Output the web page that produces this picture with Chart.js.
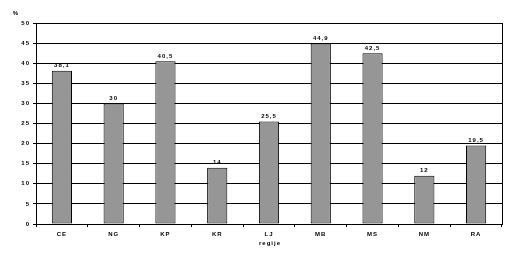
<!doctype html>
<html lang="sl">
<head>
<meta charset="utf-8" />
<title>regije</title>
<script src="https://cdn.jsdelivr.net/npm/chart.js@4.4.1/dist/chart.umd.min.js"></script>
<style>
  html, body { margin: 0; padding: 0; background: #fff; }
  #wrap { width: 518px; height: 254px; }
</style>
</head>
<body>
<div id="wrap"><canvas id="myChart" width="518" height="254"></canvas></div>
<script>
// dati
const regije = ['CE', 'NG', 'KP', 'KR', 'LJ', 'MB', 'MS', 'NM', 'RA'];
const deleži = [38.1, 30, 40.5, 14, 25.5, 44.9, 42.5, 12, 19.5];
const yMax = 50;
const yStep = 5;

const FONT = 'Liberation Sans, Arial, sans-serif';

// okvir grafa, naslovi osi in vrednosti nad stolpci
const extras = {
    id: 'extras',
    beforeDraw(chart) {
        chart.ctx.letterSpacing = '1px';
    },
    afterDraw(chart) {
        const ctx = chart.ctx;
        const a = chart.chartArea;
        ctx.save();
        ctx.strokeStyle = '#000';
        ctx.lineWidth = 1;
        ctx.strokeRect(Math.round(a.left) + 0.5, Math.round(a.top) + 0.5,
            Math.round(a.right - a.left), Math.round(a.bottom - a.top));

        ctx.letterSpacing = '1px';
        ctx.fillStyle = '#000';
        ctx.font = 'bold 6px ' + FONT;
        ctx.textAlign = 'center';
        ctx.textBaseline = 'bottom';
        const meta = chart.getDatasetMeta(0);
        meta.data.forEach((bar, i) => {
            const txt = String(deleži[i]).replace('.', ',');
            ctx.fillText(txt, bar.x, bar.y - 2);
        });

        ctx.textBaseline = 'middle';
        ctx.fillText('%', 16, 13);
        ctx.fillText('regije', 270, 243);
        ctx.restore();
    }
};

new Chart(document.getElementById('myChart'), {
    type: 'bar',
    data: {
        labels: regije,
        datasets: [{
            data: deleži,
            backgroundColor: '#969696',
            borderColor: '#000',
            borderWidth: 1,
            borderSkipped: false,
            categoryPercentage: 1,
            barPercentage: 0.39
        }]
    },
    options: {
        responsive: false,
        animation: false,
        devicePixelRatio: 1,
        layout: { padding: { left: 0, right: 16, top: 23, bottom: 0 } },
        plugins: {
            legend: { display: false },
            tooltip: { enabled: false }
        },
        scales: {
            y: {
                min: 0,
                max: yMax,
                border: { display: true, color: '#000', width: 1 },
                grid: { color: '#000', lineWidth: 1, tickLength: 3, drawTicks: true },
                ticks: {
                    stepSize: yStep,
                    color: '#000',
                    padding: 3,
                    font: { family: FONT, size: 6, weight: 'bold' }
                },
                afterFit(scale) { scale.width = 36; }
            },
            x: {
                offset: true,
                border: { display: true, color: '#000', width: 1 },
                grid: { offset: true, drawOnChartArea: false, color: '#000', tickLength: 3 },
                ticks: {
                    color: '#000',
                    padding: 4,
                    maxRotation: 0,
                    font: { family: FONT, size: 6, weight: 'bold' }
                },
                afterFit(scale) { scale.height = 30; }
            }
        }
    },
    plugins: [extras]
});
</script>
</body>
</html>
